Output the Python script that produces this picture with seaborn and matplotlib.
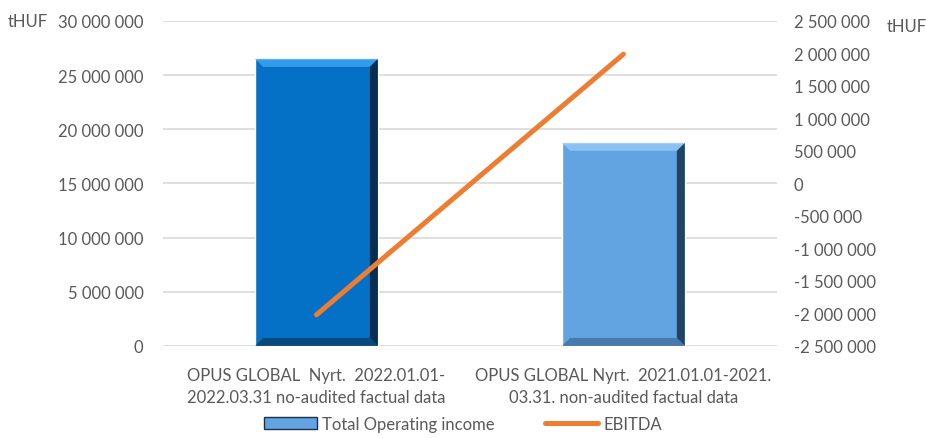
import numpy as np
import pandas as pd
import matplotlib
matplotlib.use("Agg")
import matplotlib.pyplot as plt
import seaborn as sns
from matplotlib.patches import Polygon, Patch
from matplotlib.lines import Line2D
from matplotlib.ticker import FuncFormatter, MultipleLocator

# Datos
categorias = ["OPUS GLOBAL  Nyrt.  2022.01.01-\n2022.03.31 no-audited factual data",
              "OPUS GLOBAL Nyrt.  2021.01.01-2021.\n03.31. non-audited factual data"]
operating_income = [26500000, 18750000]
ebitda = [-2020000, 1990000]

colores_barra = ["#0471C6", "#62A4E2"]
colores_top = ["#3AA2F2", "#93C7F3"]
colores_derecha = ["#07233C", "#1B324A"]
colores_abajo = ["#0B3D66", "#3F6E9C"]
color_linea = "#ED7D31"
gris = "#595959"

sns.set_theme(style="white")
plt.rcParams["font.family"] = ["Lato", "DejaVu Sans"]

fig = plt.figure(figsize=(9.26, 4.39), dpi=100)
ax = fig.add_axes([0.176, 0.2096, 0.663, 0.7403])

df = pd.DataFrame({"cat": categorias, "valor": operating_income})
sns.barplot(data=df, x="cat", y="valor", hue="cat", palette=colores_barra,
            width=0.4, legend=False, ax=ax, saturation=1)

ax.set_ylim(0, 30000000)
ax.set_xlim(-0.5, 1.5)
ax.yaxis.set_major_locator(MultipleLocator(5000000))
fmt = FuncFormatter(lambda v, p: f"{int(round(v)):,}".replace(",", " "))
ax.yaxis.set_major_formatter(fmt)
ax.grid(axis="y", color="#D9D9D9", linewidth=1.2)
ax.set_axisbelow(True)
for s in ax.spines.values():
    s.set_visible(False)
ax.tick_params(axis="both", length=0, labelsize=12, colors=gris, pad=14)
ax.tick_params(axis="x", pad=15)
ax.set_xlabel("")
ax.set_ylabel("")
for lab in ax.get_xticklabels():
    lab.set_linespacing(1.5)

# efecto bisel en las barras
fig.canvas.draw()
bev = 8
for i, p in enumerate(ax.patches):
    x0, y0 = ax.transData.transform((p.get_x(), p.get_y()))
    x1, y1 = ax.transData.transform((p.get_x() + p.get_width(), p.get_y() + p.get_height()))
    caras = [
        ([(x0, y1), (x1, y1), (x1 - bev, y1 - bev), (x0 + bev, y1 - bev)], colores_top[i], 0.85),
        ([(x1, y1), (x1, y0), (x1 - bev, y0 + bev), (x1 - bev, y1 - bev)], colores_derecha[i], 0.85),
        ([(x0, y0), (x1, y0), (x1 - bev, y0 + bev), (x0 + bev, y0 + bev)], colores_abajo[i], 0.75),
    ]
    for pts, c, a in caras:
        ax.add_patch(Polygon(pts, closed=True, transform=None, facecolor=c,
                             edgecolor="none", alpha=a, zorder=3))

ax2 = ax.twinx()
sns.lineplot(x=[0, 1], y=ebitda, ax=ax2, color=color_linea, linewidth=3.6,
             solid_capstyle="round", zorder=5)
ax2.set_ylim(-2500000, 2500000)
ax2.yaxis.set_major_locator(MultipleLocator(500000))
ax2.yaxis.set_major_formatter(fmt)
ax2.grid(False)
for s in ax2.spines.values():
    s.set_visible(False)
ax2.tick_params(axis="y", length=0, labelsize=12, colors=gris, pad=12)
ax2.set_ylabel("")

fig.text(0.008, 0.95, "tHUF", fontsize=12, color=gris, va="center", ha="left")
fig.text(0.958, 0.938, "tHUF", fontsize=12, color=gris, va="center", ha="left")

handles = [Patch(facecolor=colores_barra[1], edgecolor="#1B324A"),
           Line2D([0], [0], color=color_linea, linewidth=3.6, solid_capstyle="round")]
fig.legend(handles, ["Total Operating income", "EBITDA"], loc="lower center",
           bbox_to_anchor=(0.5, -0.012), ncol=2, frameon=False, fontsize=12,
           labelcolor=gris, handlelength=3.2, columnspacing=3, handletextpad=0.3,
           borderpad=0.2)

plt.savefig("out.png", dpi=100)
